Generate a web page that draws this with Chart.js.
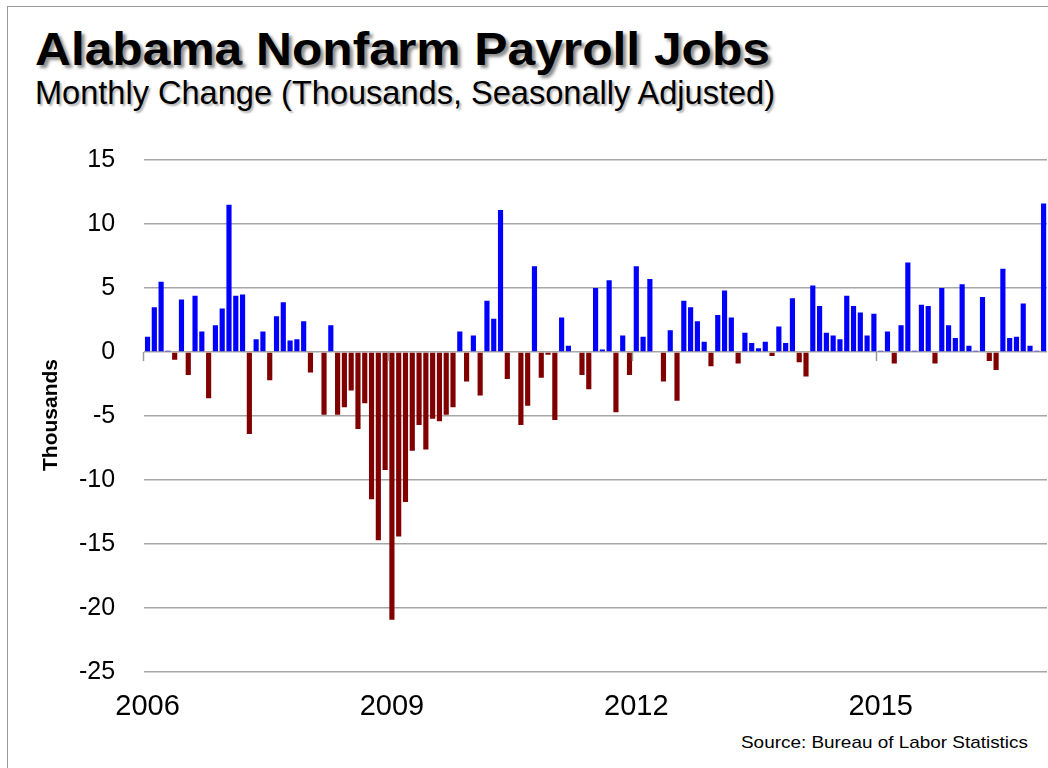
<!DOCTYPE html>
<html>
<head>
<meta charset="utf-8">
<script src="https://cdn.jsdelivr.net/npm/chart.js@4"></script>
<style>
  html, body { margin: 0; padding: 0; background: #fff; }
  #wrap { position: relative; width: 1048px; height: 768px; overflow: hidden; background: #fff; }
  #frame { position: absolute; left: 7px; top: 6px; width: 1060px; height: 800px; border-left: 1px solid #9a9a9a; border-top: 1px solid #9a9a9a; }
  .txt { position: absolute; white-space: nowrap; transform-origin: left top; color: #000; }
  #title { left: 35px; top: 22px; font: bold 46px "Liberation Sans", Arial, sans-serif; text-shadow: 3px 3px 3px rgba(0,0,0,0.45); }
  #subtitle { left: 35px; top: 74px; font: 33px "Liberation Sans", Arial, sans-serif; text-shadow: 2px 2px 2px rgba(0,0,0,0.3); }
  #source { left: 741px; top: 733px; font: 17px "Liberation Sans", Arial, sans-serif; }
  #ytitle { position: absolute; left: 50px; top: 415px; font: bold 21px "Liberation Sans", Arial, sans-serif; transform: translate(-50%, -50%) rotate(-90deg); white-space: nowrap; color: #000; }
  #c { position: absolute; left: 0; top: 0; }
</style>
</head>
<body>
<div id="wrap">
  <div id="frame"></div>
  <div class="txt" id="title" data-w="735">Alabama Nonfarm Payroll Jobs</div>
  <div class="txt" id="subtitle" data-w="740">Monthly Change (Thousands, Seasonally Adjusted)</div>
  <div class="txt" id="source" data-w="287">Source: Bureau of Labor Statistics</div>
  <canvas id="c" width="1048" height="768"></canvas>
  <div id="ytitle">Thousands</div>
</div>
<script>
// Monthly change, thousands (Jan 2006 .. Jan 2017)
const v2006 = [1.2, 3.5, 5.5, 0.1, -0.6, 4.1, -1.8, 4.4, 1.6, -3.6, 2.1, 3.4];
const v2007 = [11.5, 4.4, 4.5, -6.4, 1.0, 1.6, -2.2, 2.8, 3.9, 0.9, 1.0, 2.4];
const v2008 = [-1.6, 0, -4.9, 2.1, -4.9, -4.3, -3.0, -6.0, -4.0, -11.5, -14.7, -9.2];
const v2009 = [-20.9, -14.4, -11.7, -7.7, -5.7, -7.6, -5.2, -5.4, -4.9, -4.3, 1.6, -2.3];
const v2010 = [1.3, -3.4, 4.0, 2.6, 11.1, -2.1, 0, -5.7, -4.2, 6.7, -2.0, -0.2];
const v2011 = [-5.3, 2.7, 0.5, 0, -1.8, -2.9, 5.0, 0.2, 5.6, -4.7, 1.3, -1.8];
const v2012 = [6.7, 1.2, 5.7, 0, -2.3, 1.7, -3.8, 4.0, 3.5, 2.4, 0.8, -1.1];
const v2013 = [2.9, 4.8, 2.7, -0.9, 1.5, 0.7, 0.3, 0.8, -0.3, 2.0, 0.7, 4.2];
const v2014 = [-0.8, -1.9, 5.2, 3.6, 1.5, 1.3, 1.0, 4.4, 3.6, 3.1, 1.3, 3.0];
const v2015 = [0.1, 1.6, -0.9, 2.1, 7.0, 0.1, 3.7, 3.6, -0.9, 5.0, 2.1, 1.1];
const v2016 = [5.3, 0.5, 0.1, 4.3, -0.7, -1.4, 6.5, 1.1, 1.2, 3.8, 0.5, 0.1];
const v2017 = [11.6];

const years = ['2006','2007','2008','2009','2010','2011','2012','2013','2014','2015','2016','2017'];
const months = ['Jan','Feb','Mar','Apr','May','Jun','Jul','Aug','Sep','Oct','Nov','Dec'];
const tickYears = ['2006', '2009', '2012', '2015'];
const yTicks = [15, 10, 5, 0, -5, -10, -15, -20, -25];

const yearValues = [v2006, v2007, v2008, v2009, v2010, v2011, v2012, v2013, v2014, v2015, v2016, v2017];
const values = [].concat(...yearValues);
const categories = [];
yearValues.forEach((arr, yi) => arr.forEach((_, mi) => categories.push(months[mi] + ' ' + years[yi])));

const POS = '#0000ff', NEG = '#800000';

// fit header texts to the reference widths
document.querySelectorAll('.txt').forEach(el => {
  const w = el.getBoundingClientRect().width;
  const target = +el.dataset.w;
  el.style.transform = 'scaleX(' + (target / w) + ')';
});

const zeroTicks = {
  id: 'zeroTicks',
  afterDatasetsDraw(chart) {
    const x = chart.scales.x, y = chart.scales.y, ctx = chart.ctx;
    const y0 = y.getPixelForValue(0);
    const half = (x.getPixelForValue(1) - x.getPixelForValue(0)) / 2;
    ctx.save();
    ctx.strokeStyle = '#9a9a9a';
    ctx.lineWidth = 1.5;
    categories.forEach((c, i) => {
      if (i % 36 === 0) {
        const px = Math.round(x.getPixelForValue(i) - half) - 0.5;
        ctx.beginPath();
        ctx.moveTo(px, y0);
        ctx.lineTo(px, y0 + 9);
        ctx.stroke();
      }
    });
    ctx.restore();
  }
};

new Chart(document.getElementById('c'), {
  type: 'bar',
  data: {
    labels: categories,
    datasets: [{
      data: values,
      backgroundColor: values.map(v => v < 0 ? NEG : POS),
      borderWidth: 0,
      barPercentage: 0.76,
      categoryPercentage: 1.0
    }]
  },
  options: {
    responsive: false,
    animation: false,
    devicePixelRatio: 1,
    layout: { padding: { top: 160, left: 50, right: 1, bottom: 35 } },
    plugins: { legend: { display: false }, tooltip: { enabled: false } },
    scales: {
      x: {
        type: 'category',
        offset: true,
        grid: { display: false },
        border: { display: false },
        afterFit: (axis) => { axis.paddingRight = 0; axis.paddingLeft = 0; },
        ticks: {
          autoSkip: false,
          maxRotation: 0,
          minRotation: 0,
          padding: 9,
          color: '#000',
          font: { family: '"Liberation Sans", Arial, sans-serif', size: 29 },
          callback: (val, i) => (i % 36 === 0 ? tickYears[i / 36] : '')
        }
      },
      y: {
        min: -25,
        max: 15,
        afterBuildTicks: (axis) => { axis.ticks = yTicks.map(v => ({ value: v })); },
        grid: { color: '#a6a6a6', lineWidth: 1.5, drawTicks: false },
        border: { display: false },
        ticks: {
          padding: 29,
          color: '#000',
          font: { family: '"Liberation Sans", Arial, sans-serif', size: 25 }
        }
      }
    }
  },
  plugins: [zeroTicks]
});
</script>
</body>
</html>
